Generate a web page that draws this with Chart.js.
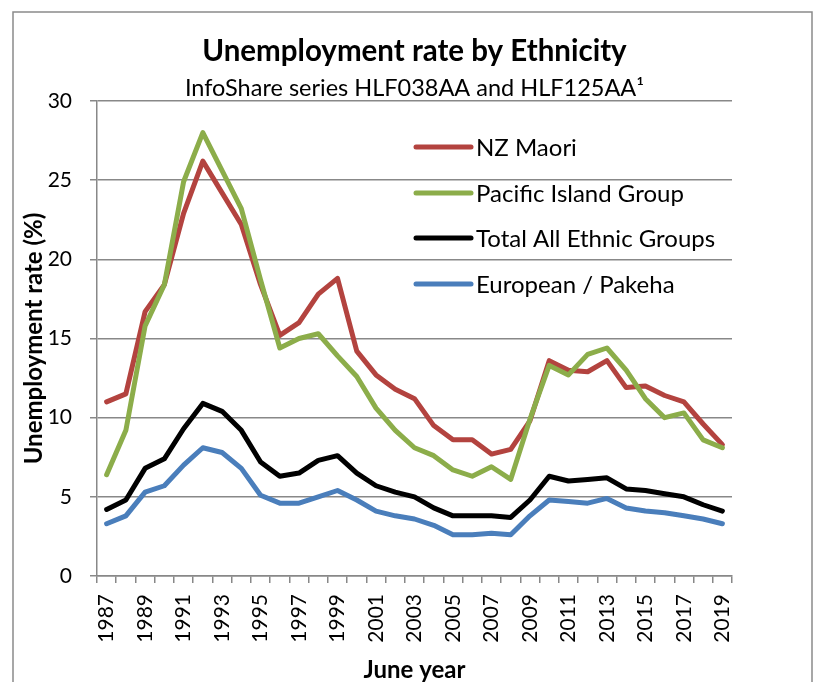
<!DOCTYPE html>
<html>
<head>
<meta charset="utf-8">
<script src="https://cdn.jsdelivr.net/npm/chart.js@4/dist/chart.umd.min.js"></script>
<style>
  html, body { margin: 0; padding: 0; background: #fff; }
  #wrap { width: 813px; height: 682px; }
</style>
</head>
<body>
<div id="wrap"><canvas id="myChart" width="813" height="682"></canvas></div>
<script>
// June years 1987..2019
const years = [];
for (let y = 1987; y <= 2019; y++) years.push(String(y));

const maori = [11.0, 11.5, 16.7, 18.4, 22.9, 26.2, 24.2, 22.2, 18.4, 15.2, 16.0, 17.8, 18.8,
  14.2, 12.7, 11.8, 11.2, 9.5, 8.6, 8.6, 7.7, 8.0, 9.8, 13.6, 13.0, 12.9, 13.6,
  11.9, 12.0, 11.4, 11.0, 9.6, 8.3];
const pacific = [6.4, 9.2, 15.8, 18.4, 24.9, 28.0, 25.6, 23.2, 18.7, 14.4, 15.0, 15.3, 13.9,
  12.6, 10.6, 9.2, 8.1, 7.6, 6.7, 6.3, 6.9, 6.1, 9.9, 13.3, 12.7, 14.0, 14.4,
  13.0, 11.2, 10.0, 10.3, 8.6, 8.1];
const total = [4.2, 4.8, 6.8, 7.4, 9.3, 10.9, 10.4, 9.2, 7.2, 6.3, 6.5, 7.3, 7.6,
  6.5, 5.7, 5.3, 5.0, 4.3, 3.8, 3.8, 3.8, 3.7, 4.8, 6.3, 6.0, 6.1, 6.2,
  5.5, 5.4, 5.2, 5.0, 4.5, 4.1];
const european = [3.3, 3.8, 5.3, 5.7, 7.0, 8.1, 7.8, 6.8, 5.1, 4.6, 4.6, 5.0, 5.4,
  4.8, 4.1, 3.8, 3.6, 3.2, 2.6, 2.6, 2.7, 2.6, 3.8, 4.8, 4.7, 4.6, 4.9,
  4.3, 4.1, 4.0, 3.8, 3.6, 3.3];

const yTicks = [0, 5, 10, 15, 20, 25, 30];

const FONT = 'Lato, "Open Sans", sans-serif';
const GRID = '#888888';

// outer frame of the chart object
const framePlugin = {
  id: 'frame',
  beforeDraw(chart) {
    const ctx = chart.ctx;
    ctx.save();
    ctx.fillStyle = '#fff';
    ctx.fillRect(0, 0, chart.width, chart.height);
    ctx.strokeStyle = '#8a8a8a';
    ctx.lineWidth = 1.5;
    ctx.strokeRect(13, 12, 799, 700);
    ctx.restore();
  }
};

// legend drawn inside the plot area
const innerLegend = {
  id: 'innerLegend',
  afterDatasetsDraw(chart) {
    const ctx = chart.ctx;
    const x0 = 416, x1 = 471, tx = 476;
    const rows = [147, 193, 238, 284];
    ctx.save();
    ctx.font = '24px ' + FONT;
    ctx.textBaseline = 'middle';
    ctx.lineCap = 'round';
    chart.data.datasets.forEach((ds, i) => {
      ctx.strokeStyle = ds.borderColor;
      ctx.lineWidth = 5;
      ctx.beginPath();
      ctx.moveTo(x0, rows[i]);
      ctx.lineTo(x1, rows[i]);
      ctx.stroke();
      ctx.fillStyle = '#000';
      ctx.fillText(ds.label, tx, rows[i] + 1);
    });
    ctx.restore();
  }
};

const lineStyle = {
  borderWidth: 5,
  pointRadius: 0,
  tension: 0,
  borderJoinStyle: 'round',
  borderCapStyle: 'round',
  fill: false
};

var chartContext = document.getElementById('myChart').getContext('2d');
var myChart = new Chart(chartContext, {
  type: 'line',
  data: {
    labels: years,
    datasets: [
      Object.assign({ label: 'NZ Maori', data: maori, borderColor: '#B3433F', order: 1 }, lineStyle),
      Object.assign({ label: 'Pacific Island Group', data: pacific, borderColor: '#8CAD4A', order: 0 }, lineStyle),
      Object.assign({ label: 'Total All Ethnic Groups', data: total, borderColor: '#000000', order: 3 }, lineStyle),
      Object.assign({ label: 'European / Pakeha', data: european, borderColor: '#4A7EBB', order: 2 }, lineStyle)
    ]
  },
  plugins: [framePlugin, innerLegend],
  options: {
    responsive: false,
    animation: false,
    layout: { padding: { left: 0, right: 81, top: 0, bottom: 0 } },
    plugins: {
      legend: { display: false },
      tooltip: { enabled: false },
      title: {
        display: true,
        fullSize: false,
        text: 'Unemployment rate by Ethnicity',
        color: '#000',
        font: { family: FONT, size: 29.5, weight: 'bold', lineHeight: 1.0 },
        padding: { top: 37, bottom: 6 }
      },
      subtitle: {
        display: true,
        fullSize: false,
        text: 'InfoShare series HLF038AA and HLF125AA\u00B9',
        color: '#000',
        font: { family: FONT, size: 23.5, lineHeight: 1.0 },
        padding: { top: 4, bottom: 1 }
      }
    },
    scales: {
      x: {
        offset: true,
        afterFit: (s) => { s.height = 106; },
        grid: {
          display: true,
          offset: true,
          drawOnChartArea: false,
          drawTicks: true,
          tickLength: 7,
          color: GRID,
          lineWidth: 1.5
        },
        border: { display: true, color: GRID, width: 1.5 },
        ticks: {
          autoSkip: false,
          maxRotation: 90,
          minRotation: 90,
          padding: 11,
          color: '#000',
          font: { family: FONT, size: 21 },
          callback: function (val, idx) { return idx % 2 === 0 ? years[idx] : ''; }
        },
        title: {
          display: true,
          text: 'June year',
          color: '#000',
          font: { family: FONT, size: 24, weight: 'bold', lineHeight: 1.0 },
          padding: { top: 0, bottom: 0 }
        }
      },
      y: {
        min: yTicks[0],
        max: yTicks[yTicks.length - 1],
        afterFit: (s) => { s.width = 97; },
        afterBuildTicks: (s) => { s.ticks = yTicks.map(v => ({ value: v })); },
        grid: {
          color: GRID,
          lineWidth: 1.5,
          tickLength: 7
        },
        border: { display: true, color: GRID, width: 1.5 },
        ticks: {
          padding: 18,
          color: '#000',
          font: { family: FONT, size: 21 }
        },
        title: {
          display: true,
          text: 'Unemployment rate (%)',
          color: '#000',
          font: { family: FONT, size: 24, weight: 'bold', lineHeight: 1.2 },
          padding: { top: 20, bottom: 0 }
        }
      }
    }
  }
});
</script>
</body>
</html>
